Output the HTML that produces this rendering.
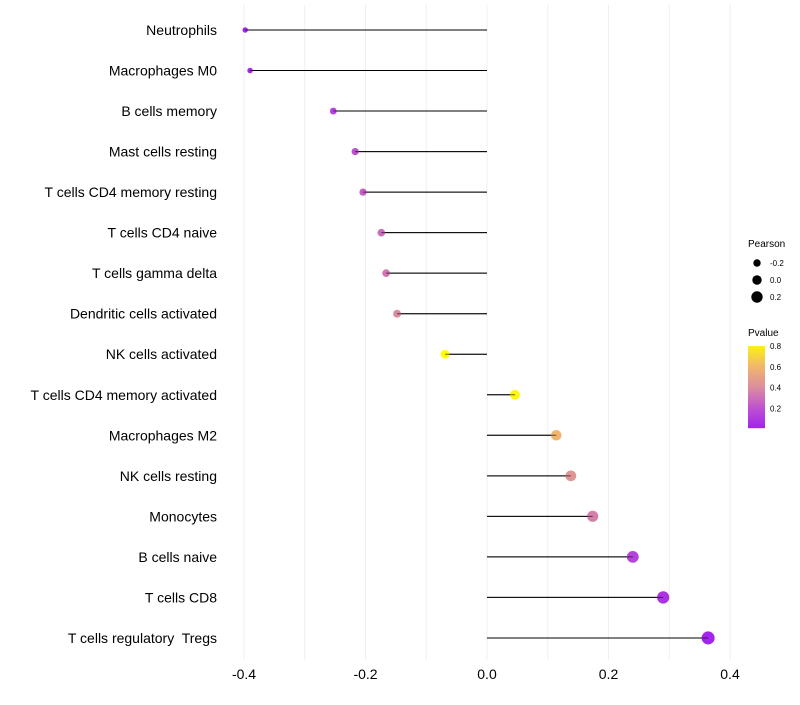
<!DOCTYPE html>
<html><head><meta charset="utf-8"><style>
body{margin:0;background:#fff;font-family:"Liberation Sans",sans-serif}
text{white-space:pre}
</style></head><body>
<svg id="c" width="800" height="700" xmlns="http://www.w3.org/2000/svg" font-family="Liberation Sans, sans-serif"></svg>
<script>
const categories=["Neutrophils","Macrophages M0","B cells memory","Mast cells resting","T cells CD4 memory resting","T cells CD4 naive","T cells gamma delta","Dendritic cells activated","NK cells activated","T cells CD4 memory activated","Macrophages M2","NK cells resting","Monocytes","B cells naive","T cells CD8","T cells regulatory  Tregs"];
const pearson=[-0.398,-0.39,-0.253,-0.217,-0.204,-0.174,-0.166,-0.148,-0.069,0.046,0.114,0.138,0.174,0.240,0.290,0.364];
const pvalue=[0.01,0.02,0.15,0.2,0.25,0.3,0.33,0.4,0.85,0.82,0.6,0.45,0.36,0.15,0.08,0.02];
const xTicks=[-0.4,-0.2,0.0,0.2,0.4];
const xTickLabels=["-0.4","-0.2","0.0","0.2","0.4"];
const sizeLegend=[-0.2,0.0,0.2];
const colorLegend=[0.2,0.4,0.6,0.8];
const svg=document.getElementById('c');
const NS='http://www.w3.org/2000/svg';
function x(v){return 487+v*607.5;}
function y(i){return 30+i*40.53;}
function rad(p){return 4.7+5*p;}
const stops=[[0,[160,32,240]],[0.2,[190,80,210]],[0.4,[218,140,160]],[0.6,[240,180,110]],[0.85,[255,255,0]]];
function col(p){for(let k=0;k<stops.length-1;k++){const a=stops[k],b=stops[k+1];if(p<=b[0]||k==stops.length-2){const t=Math.max(0,Math.min(1,(p-a[0])/(b[0]-a[0])));return 'rgb('+a[1].map((c,j)=>Math.round(c+(b[1][j]-c)*t)).join(',')+')';}}}
function el(t,a,txt){const e=document.createElementNS(NS,t);for(const k in a)e.setAttribute(k,a[k]);if(txt!=null)e.textContent=txt;svg.appendChild(e);return e;}
for(let v=-0.4;v<=0.41;v+=0.1){const g=el('line',{x1:x(v),x2:x(v),y1:5,y2:660,stroke:'#efefef','stroke-width':1});

}
xTicks.forEach((v,i)=>{const t=el('text',{x:x(v),y:679,'text-anchor':'middle','font-size':14,fill:'#000'},xTickLabels[i]);

});
categories.forEach((c,i)=>{
const t=el('text',{x:217,y:y(i)+5,'text-anchor':'end','font-size':14,fill:'#000'},c);


const l=el('line',{x1:x(0),x2:x(pearson[i]),y1:y(i),y2:y(i),stroke:'#000','stroke-width':1});


const d=el('circle',{cx:x(pearson[i]),cy:y(i),r:rad(pearson[i]),fill:col(pvalue[i])});


const l2=el('line',{x1:x(0),x2:x(pearson[i]),y1:y(i),y2:y(i),stroke:'#000','stroke-width':1,'stroke-opacity':0.6});


});
const pt=el('text',{x:748,y:247,'font-size':10},'Pearson');


sizeLegend.forEach((v,i)=>{const c=el('circle',{cx:757,cy:263+i*17,r:rad(v),fill:'#000'});


const t=el('text',{x:770,y:266+i*17,'font-size':8},v.toFixed(1));

});
const ct=el('text',{x:748,y:336,'font-size':10},'Pvalue');


const barTop=346,barBot=428,valTop=0.8,valBot=0.01;
function ly(v){return barBot-(v-valBot)/(valTop-valBot)*(barBot-barTop);}
for(let yy=barTop;yy<barBot;yy++){const v=valTop-(yy-barTop)/(barBot-barTop)*(valTop-valBot);const r=el('rect',{x:748,y:yy,width:17,height:1.2,fill:col(v)});

}
colorLegend.forEach(v=>{const t=el('text',{x:770,y:ly(v)+3,'font-size':8},v.toFixed(1));

});
</script>
</body></html>
